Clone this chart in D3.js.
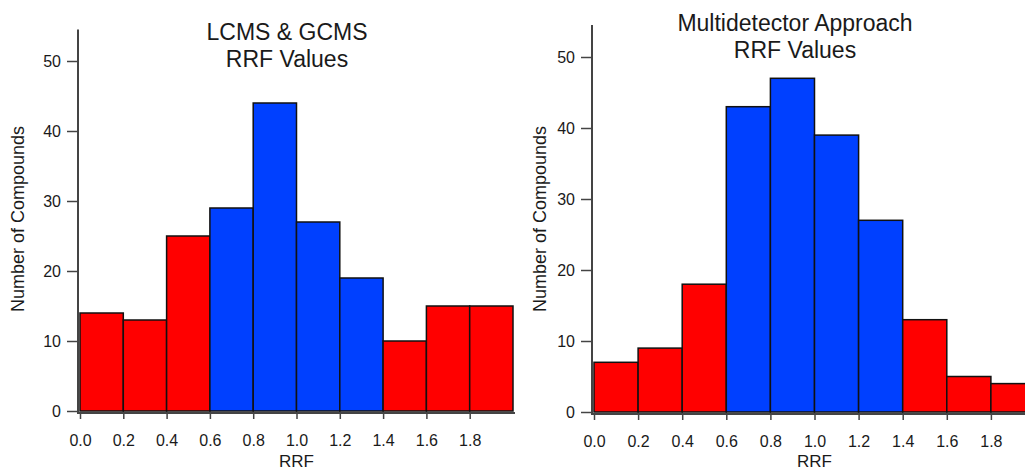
<!DOCTYPE html>
<html lang="en">
<head>
    <meta charset="UTF-8">
    <title>RRF Histograms</title>
    <script src="https://d3js.org/d3.v7.min.js"></script>
    <style>
        body { margin: 0; background: #fff; }
        svg text { font-family: "Liberation Sans", Arial, sans-serif; fill: #1a1a1a; }
    </style>
</head>
<body>
    <svg id="chart" width="1025" height="470"></svg>
    <script>
        // Data
        const binStarts = [0.0, 0.2, 0.4, 0.6, 0.8, 1.0, 1.2, 1.4, 1.6, 1.8];
        const binWidth = 0.2;
        const lcmsCounts = [14, 13, 25, 29, 44, 27, 19, 10, 15, 15];
        const multiCounts = [7, 9, 18, 43, 47, 39, 27, 13, 5, 4];
        const xTicks = [0.0, 0.2, 0.4, 0.6, 0.8, 1.0, 1.2, 1.4, 1.6, 1.8];
        const yTicks = [0, 10, 20, 30, 40, 50];
        const titlesLeft = ["LCMS & GCMS", "RRF Values"];
        const titlesRight = ["Multidetector Approach", "RRF Values"];

        const RED = "#ff0000";
        const BLUE = "#0040ff";
        const AXIS = "#444";

        const svg = d3.select("#chart");

        // panel layouts (pixel geometry only)
        const panels = [
            { counts: lcmsCounts, title: titlesLeft, x0: 80, x1: 513, y0: 411, perUnit: 7.0,
              yAxisX: 78, titleX: 287, titleY: 40, yLabelX: 24, xClip: 1025 },
            { counts: multiCounts, title: titlesRight, x0: 594, x1: 1035, y0: 412, perUnit: 7.1,
              yAxisX: 592, titleX: 795, titleY: 31, yLabelX: 546, xClip: 1025 }
        ];

        panels.forEach(p => {
            const g = svg.append("g");

            const x = d3.scaleLinear().domain([0, 2]).range([p.x0, p.x1]);
            const yMax = 54.5;
            const y = d3.scaleLinear().domain([0, yMax]).range([p.y0, p.y0 - yMax * p.perUnit]);

            // bars
            g.selectAll("rect.bar")
                .data(binStarts.map((b, i) => ({ start: b, count: p.counts[i] })))
                .enter()
                .append("rect")
                .attr("class", "bar")
                .attr("x", d => x(d.start))
                .attr("width", d => x(d.start + binWidth) - x(d.start))
                .attr("y", d => y(d.count))
                .attr("height", d => y(0) - y(d.count))
                .attr("fill", d => (d.start >= 0.6 - 1e-9 && d.start < 1.4 - 1e-9) ? BLUE : RED)
                .attr("stroke", "#111")
                .attr("stroke-width", 1.5);

            // y axis
            const yAxis = g.append("g")
                .attr("transform", `translate(${p.yAxisX},0)`)
                .call(d3.axisLeft(y).tickValues(yTicks).tickSize(11).tickSizeOuter(0).tickPadding(6));
            yAxis.select(".domain").remove();
            yAxis.append("line")
                .attr("x1", 0).attr("x2", 0)
                .attr("y1", y(0) + 2).attr("y2", y(yMax))
                .attr("stroke", AXIS).attr("stroke-width", 2);
            yAxis.selectAll(".tick line").attr("stroke", AXIS).attr("stroke-width", 1.5);
            yAxis.selectAll(".tick text").attr("font-size", 16).style("fill", "#1a1a1a");

            // x axis
            const xAxis = g.append("g")
                .attr("transform", `translate(0,${p.y0 + 2})`)
                .call(d3.axisBottom(x).tickValues(xTicks).tickFormat(d3.format(".1f"))
                    .tickSize(6).tickSizeOuter(0).tickPadding(16));
            xAxis.select(".domain").remove();
            xAxis.append("line")
                .attr("x1", p.yAxisX - 1).attr("x2", Math.min(x(2) + 2, p.xClip))
                .attr("y1", 0).attr("y2", 0)
                .attr("stroke", AXIS).attr("stroke-width", 2);
            xAxis.selectAll(".tick line").attr("stroke", AXIS).attr("stroke-width", 1.5);
            xAxis.selectAll(".tick text").attr("font-size", 16).style("fill", "#1a1a1a");

            // axis labels
            g.append("text")
                .attr("x", (p.x0 + Math.min(p.x1, 1035)) / 2)
                .attr("y", 467)
                .attr("text-anchor", "middle")
                .attr("font-size", 17)
                .text("RRF");

            g.append("text")
                .attr("transform", `translate(${p.yLabelX},219) rotate(-90)`)
                .attr("text-anchor", "middle")
                .attr("font-size", 18)
                .text("Number of Compounds");

            // title
            g.append("text")
                .attr("x", p.titleX)
                .attr("y", p.titleY)
                .attr("text-anchor", "middle")
                .attr("font-size", 23)
                .selectAll("tspan")
                .data(p.title)
                .enter()
                .append("tspan")
                .attr("x", p.titleX)
                .attr("dy", (d, i) => i === 0 ? 0 : 27)
                .text(d => d);
        });
    </script>
</body>
</html>
